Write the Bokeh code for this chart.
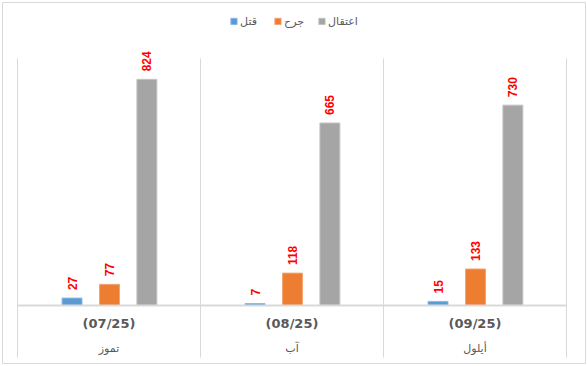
import math
from bokeh.plotting import figure
from bokeh.models import ColumnDataSource, Range1d, Legend, LegendItem
from bokeh.transform import dodge
from bokeh.core.properties import value
from bokeh.embed import file_html
from bokeh.resources import INLINE

# ---- data ----
months = ["تموز", "آب", "أيلول"]
periods = ["(07/25)", "(08/25)", "(09/25)"]
series_names = ["قتل", "جرح", "اعتقال"]
killed = [27, 7, 15]
injured = [77, 118, 133]
arrested = [824, 665, 730]
y_max = 900

# ---- layout (pixels) ----
W, H = 587, 366
FL, FR, FT, FB = 2, 585, 2, 363          # frame edges
PX_LEFT, PX_RIGHT = 17, 566              # category area
PX_BASE, PX_TOP, PX_SEP_BOTTOM = 305, 58, 357

xs = (PX_RIGHT - PX_LEFT) / len(months)
ys = (PX_BASE - PX_TOP) / y_max

x_range = Range1d(-(PX_LEFT - FL) / xs, len(months) + (FR - PX_RIGHT) / xs)
y_range = Range1d(-(FB - PX_BASE) / ys, (PX_BASE - FT) / ys)

p = figure(width=W, height=H, x_range=x_range, y_range=y_range,
           output_backend="svg", toolbar_location=None,
           min_border_left=FL, min_border_right=W - FR,
           min_border_top=FT, min_border_bottom=H - FB)
p.axis.visible = False
p.grid.visible = False
p.outline_line_color = "#d9d9d9"
p.outline_line_width = 1
p.background_fill_color = "white"
p.border_fill_color = "white"

centers = [i + 0.5 for i in range(len(months))]
src = ColumnDataSource(dict(x=centers, killed=killed, injured=injured, arrested=arrested,
                            killed_t=[str(v) for v in killed],
                            injured_t=[str(v) for v in injured],
                            arrested_t=[str(v) for v in arrested],
                            periods=periods, months=months))

# separators and baseline
n = len(months)
sep_x = list(range(n + 1))
p.segment(x0=sep_x, y0=[-(PX_SEP_BOTTOM - PX_BASE) / ys] * (n + 1),
          x1=sep_x, y1=[y_max] * (n + 1), line_color="#d9d9d9", line_width=1)

colors = ["#5B9BD5", "#ED7D31", "#A5A5A5"]
edge = ["#8DB8E3", "#F3A574", "#C3C3C3"]
offsets = [-0.202, 0.003, 0.207]
fields = ["killed", "injured", "arrested"]
bw = 0.109

renderers = []
for f, c, e, off in zip(fields, colors, edge, offsets):
    r = p.vbar(x=dodge("x", off, range=p.x_range), top=f, bottom=0, width=bw,
               source=src, fill_color=c, line_color=e, line_width=1)
    renderers.append(r)
    p.text(x=dodge("x", off, range=p.x_range), y=f, text=f + "_t", source=src,
           angle=math.pi / 2, text_align="left", text_baseline="middle",
           y_offset=-8, text_color="#FF0000", text_font=value("Liberation Sans"),
           text_font_style="bold", text_font_size="12px")

p.segment(x0=[0], y0=[0], x1=[n], y1=[0], line_color="#d9d9d9", line_width=2)

# category labels
p.text(x="x", y=0, text="periods", source=src, y_offset=18,
       text_align="center", text_baseline="middle", text_color="#595959",
       text_font=value("DejaVu Sans"), text_font_style="bold", text_font_size="13px")
p.text(x="x", y=0, text="months", source=src, y_offset=43,
       text_align="center", text_baseline="middle", text_color="#595959",
       text_font=value("DejaVu Sans"), text_font_size="11px")

legend = Legend(items=[LegendItem(label=s, renderers=[r]) for s, r in zip(series_names, renderers)],
                orientation="horizontal", location="top_center",
                glyph_width=8, glyph_height=8, label_standoff=3, spacing=13,
                padding=2, margin=12, label_height=14,
                label_text_font="DejaVu Sans", label_text_font_size="11px",
                label_text_color="#595959", border_line_color=None,
                background_fill_alpha=0)
p.add_layout(legend, "center")

open("out.html", "w").write(file_html(p, INLINE))
